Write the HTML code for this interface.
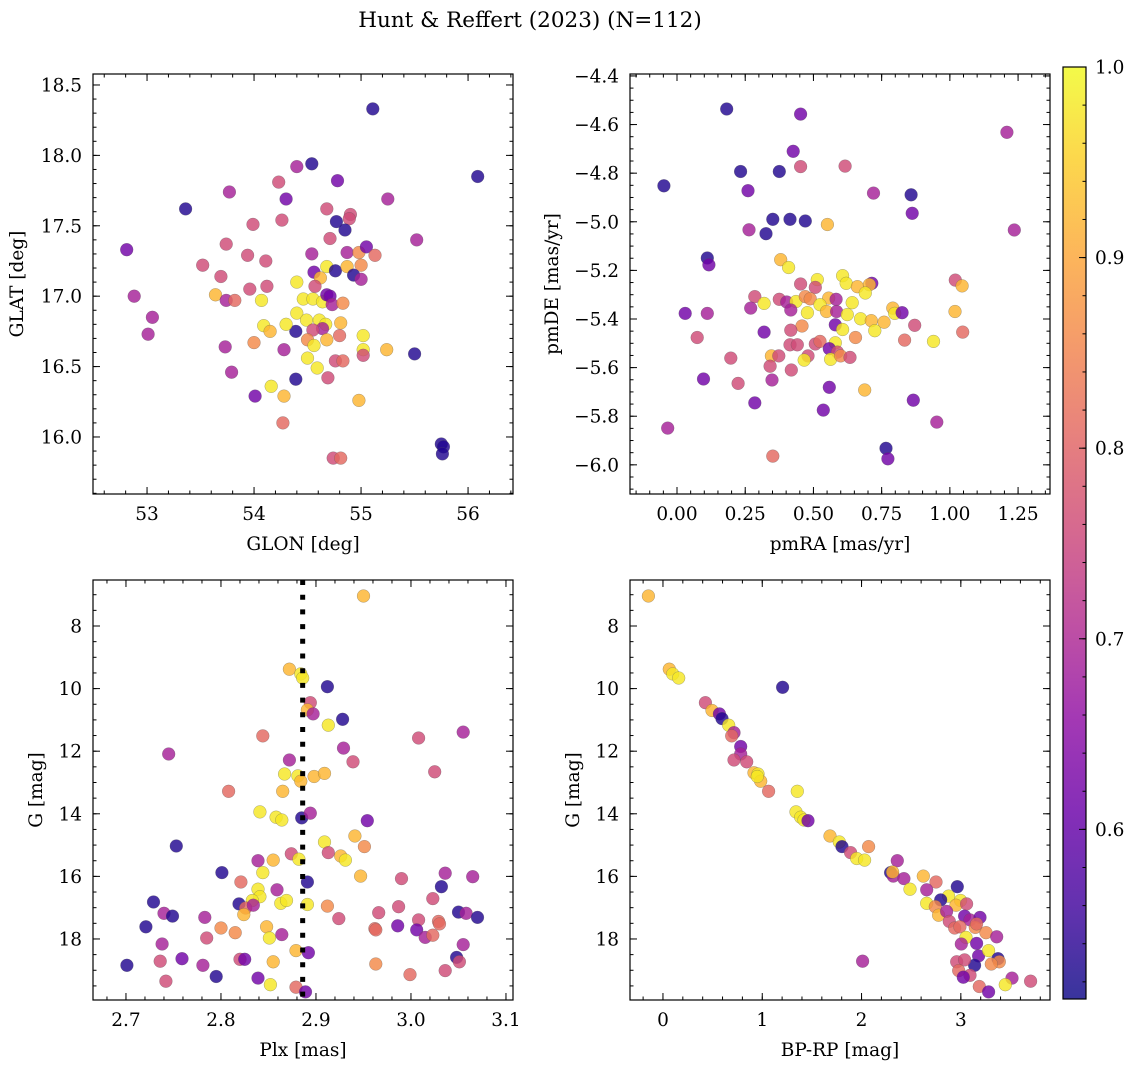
<!DOCTYPE html>
<html><head><meta charset="utf-8"><style>
html,body{margin:0;padding:0;background:#fff;}
svg{display:block;font-family:"DejaVu Serif","Liberation Serif",serif;}
</style></head><body>
<svg id="fig" width="1136" height="1067" viewBox="0 0 1136 1067" xmlns="http://www.w3.org/2000/svg">
<text x="530" y="27" text-anchor="middle" font-size="21.5">Hunt &amp; Reffert (2023) (N=112)</text>
</svg>
<script>
// probability codes: b=0.53 p=0.62 m=0.69 pk=0.76 s=0.81 o=0.86 lo=0.92 y=0.98
const glon=[55.11,56.09,54.54,54.40,54.78,54.23,53.77,54.30,55.25,53.36,54.68,54.90,54.89,53.99,54.26,54.77,54.85,54.71,55.52,52.81,53.74,53.94,54.11,54.54,54.87,54.98,55.05,55.13,53.52,53.69,54.68,54.76,54.56,54.87,55.00,54.93,55.00,54.62,54.40,54.57,53.96,54.12,52.88,53.64,53.74,53.82,54.07,54.46,54.55,54.64,54.68,54.71,54.73,54.83,53.05,53.01,54.40,54.49,54.61,54.67,54.64,54.55,54.39,54.09,54.15,54.30,54.81,55.02,54.80,54.50,54.56,54.68,54.00,53.73,54.28,55.02,55.02,55.24,55.50,54.50,54.76,54.83,54.59,53.79,54.69,54.39,54.16,54.01,54.28,54.98,54.27,54.74,54.81,55.75,55.77,55.76];
const glat=[18.33,17.85,17.94,17.92,17.82,17.81,17.74,17.69,17.69,17.62,17.62,17.58,17.55,17.51,17.54,17.53,17.47,17.41,17.40,17.33,17.37,17.29,17.25,17.30,17.31,17.31,17.35,17.29,17.22,17.14,17.21,17.18,17.17,17.21,17.22,17.15,17.12,17.13,17.10,17.07,17.05,17.07,17.00,17.01,16.97,16.97,16.97,16.98,16.98,16.96,17.01,17.00,16.94,16.95,16.85,16.73,16.88,16.83,16.83,16.80,16.77,16.76,16.75,16.79,16.75,16.80,16.81,16.72,16.72,16.69,16.65,16.69,16.67,16.64,16.62,16.62,16.58,16.62,16.59,16.56,16.54,16.54,16.49,16.46,16.42,16.41,16.36,16.29,16.29,16.26,16.10,15.85,15.85,15.95,15.93,15.88];
const prob1=[.53,.53,.53,.69,.62,.76,.69,.62,.69,.53,.76,.76,.76,.76,.76,.53,.53,.76,.69,.62,.76,.76,.76,.69,.69,.86,.62,.81,.76,.76,.98,.53,.62,.92,.86,.53,.69,.92,.98,.76,.76,.76,.69,.92,.69,.81,.98,.98,.98,.98,.62,.62,.69,.86,.69,.69,.98,.98,.98,.98,.69,.76,.53,.98,.92,.98,.92,.98,.81,.86,.98,.92,.86,.69,.69,.98,.76,.92,.53,.98,.76,.81,.98,.69,.76,.53,.98,.62,.92,.92,.81,.76,.81,.53,.53,.53];

const pmra=[0.182,0.453,1.209,0.426,0.233,0.375,0.453,0.616,-0.048,0.260,0.720,0.858,0.862,0.351,0.414,0.470,0.551,0.264,0.326,1.236,0.111,0.117,0.380,0.409,0.607,0.620,0.661,0.514,0.453,0.507,0.714,0.705,0.690,1.020,1.045,0.285,0.319,0.375,0.402,0.436,0.470,0.488,0.556,0.583,0.524,0.548,0.585,0.642,0.270,0.417,0.478,0.624,0.791,0.798,0.825,1.019,0.030,0.111,0.673,0.712,0.759,0.580,0.607,0.725,0.458,0.871,0.417,0.319,1.047,0.074,0.654,0.834,0.940,0.414,0.441,0.507,0.524,0.580,0.558,0.588,0.197,0.346,0.373,0.480,0.466,0.563,0.600,0.634,0.341,0.419,0.097,0.348,0.224,0.558,0.688,0.285,0.866,0.536,0.952,-0.034,0.351,0.766,0.773];
const pmde=[-4.536,-4.557,-4.632,-4.710,-4.793,-4.793,-4.773,-4.771,-4.852,-4.872,-4.882,-4.889,-4.965,-4.990,-4.990,-4.997,-5.011,-5.033,-5.049,-5.034,-5.149,-5.177,-5.156,-5.188,-5.222,-5.253,-5.267,-5.238,-5.256,-5.270,-5.253,-5.259,-5.293,-5.240,-5.264,-5.308,-5.336,-5.319,-5.330,-5.328,-5.308,-5.317,-5.314,-5.319,-5.341,-5.369,-5.369,-5.333,-5.355,-5.363,-5.374,-5.382,-5.355,-5.377,-5.374,-5.369,-5.377,-5.377,-5.399,-5.407,-5.413,-5.424,-5.443,-5.448,-5.429,-5.426,-5.446,-5.454,-5.454,-5.476,-5.476,-5.487,-5.492,-5.506,-5.506,-5.503,-5.492,-5.498,-5.522,-5.536,-5.561,-5.552,-5.552,-5.552,-5.569,-5.566,-5.552,-5.558,-5.594,-5.610,-5.647,-5.651,-5.665,-5.681,-5.692,-5.745,-5.734,-5.775,-5.824,-5.849,-5.964,-5.932,-5.975];
const prob2=[.53,.62,.69,.62,.53,.53,.76,.76,.53,.62,.69,.53,.62,.53,.53,.53,.92,.69,.53,.69,.53,.62,.92,.98,.98,.98,.92,.98,.76,.76,.62,.92,.98,.76,.92,.76,.98,.76,.69,.98,.86,.86,.92,.69,.98,.92,.69,.98,.69,.69,.98,.98,.92,.98,.62,.92,.62,.69,.98,.92,.92,.62,.98,.98,.86,.76,.76,.62,.81,.76,.86,.81,.98,.76,.76,.76,.81,.98,.62,.76,.76,.92,.76,.76,.98,.98,.86,.76,.76,.76,.62,.69,.76,.62,.92,.62,.62,.62,.69,.69,.81,.53,.62];

const plx=[2.950,2.872,2.884,2.886,2.912,2.894,2.891,2.897,2.928,2.913,3.055,2.844,3.008,2.745,2.929,2.872,2.939,3.025,2.867,2.881,2.884,2.898,2.909,2.808,2.865,2.841,2.858,2.864,2.885,2.894,2.954,2.753,2.909,2.913,2.941,2.951,2.874,2.882,2.926,2.931,2.839,2.855,2.844,2.801,2.891,2.947,2.990,3.036,3.065,3.032,2.821,2.839,2.859,2.841,2.833,2.819,2.826,2.834,2.824,2.863,2.869,2.891,2.912,3.023,2.987,2.729,2.740,2.749,2.783,2.966,2.924,3.008,3.029,3.030,3.050,3.058,3.070,2.721,2.800,2.815,2.848,2.851,2.864,2.785,2.962,2.963,2.986,3.006,3.015,3.023,2.738,3.055,2.879,2.892,3.048,3.051,2.701,2.736,2.759,2.781,2.820,2.825,2.855,2.963,2.795,2.839,3.036,2.999,2.742,2.852,2.879,2.889];
const gmag3=[7.04,9.38,9.53,9.66,9.94,10.45,10.68,10.81,10.98,11.17,11.39,11.51,11.58,12.09,11.90,12.28,12.34,12.66,12.73,12.79,12.96,12.81,12.71,13.28,13.28,13.94,14.11,14.20,14.13,13.98,14.22,15.03,14.90,15.24,14.71,15.05,15.28,15.45,15.35,15.48,15.50,15.48,15.88,15.88,16.18,15.99,16.07,15.90,16.01,16.33,16.18,16.41,16.43,16.65,16.77,16.88,17.01,16.92,17.22,16.86,16.77,16.90,16.95,16.71,16.97,16.82,17.18,17.27,17.31,17.16,17.35,17.39,17.44,17.52,17.14,17.18,17.31,17.61,17.65,17.80,17.61,17.97,17.86,17.97,17.67,17.71,17.58,17.71,17.95,17.88,18.16,18.18,18.37,18.44,18.59,18.73,18.84,18.71,18.63,18.84,18.65,18.65,18.73,18.80,19.20,19.25,19.01,19.14,19.35,19.46,19.54,19.69];
const prob3=[.92,.92,.98,.98,.53,.76,.92,.69,.53,.98,.69,.81,.76,.69,.69,.69,.76,.76,.98,.98,.92,.92,.92,.81,.92,.98,.98,.98,.53,.69,.62,.53,.98,.76,.92,.86,.76,.98,.92,.98,.69,.92,.98,.53,.53,.92,.76,.69,.69,.53,.81,.98,.69,.98,.98,.53,.81,.69,.92,.98,.98,.98,.86,.76,.76,.53,.69,.53,.69,.76,.76,.76,.81,.81,.53,.69,.53,.53,.86,.86,.92,.98,.69,.76,.81,.81,.62,.62,.69,.81,.69,.69,.92,.62,.53,.76,.53,.76,.62,.69,.76,.62,.92,.86,.53,.62,.76,.81,.76,.98,.81,.62];

const bprp=[-0.147,0.064,0.098,0.158,1.205,0.427,0.494,0.568,0.595,0.662,0.715,0.692,0.783,0.783,0.715,0.843,0.917,0.957,0.984,0.950,1.064,1.353,1.340,1.387,1.420,1.461,1.682,1.776,1.803,1.890,1.951,2.031,2.071,2.360,2.293,2.320,2.313,2.427,2.488,2.622,2.750,2.656,2.656,2.964,2.877,2.998,2.951,3.058,2.797,2.743,2.776,2.857,2.884,3.038,3.092,3.193,2.938,2.991,3.146,3.159,3.253,3.361,3.052,3.005,3.159,3.179,3.280,3.374,3.387,3.307,3.139,2.958,3.038,2.978,3.092,3.025,3.515,3.448,3.703,3.186,3.280,2.011];
const gmag4=[7.04,9.38,9.53,9.66,9.96,10.45,10.70,10.81,10.96,11.17,11.41,11.51,11.85,12.09,12.28,12.34,12.69,12.73,12.96,12.81,13.28,13.28,13.94,14.11,14.20,14.22,14.71,14.90,15.05,15.24,15.43,15.48,15.05,15.50,15.88,15.99,15.86,16.07,16.41,15.99,16.18,16.43,16.86,16.33,16.63,16.77,16.92,16.88,16.75,16.97,17.24,17.12,17.44,17.27,17.39,17.31,17.65,17.61,17.63,17.52,17.80,17.93,17.95,18.16,18.14,18.54,18.37,18.63,18.73,18.80,18.84,18.73,18.67,19.01,19.16,19.22,19.25,19.46,19.35,19.52,19.69,18.71];
const prob4=[.92,.92,.98,.98,.53,.76,.92,.62,.53,.98,.69,.81,.62,.69,.76,.76,.92,.98,.92,.98,.81,.98,.98,.98,.98,.62,.92,.98,.53,.76,.98,.98,.86,.69,.53,.69,.92,.69,.98,.92,.81,.69,.98,.53,.98,.98,.92,.76,.53,.86,.92,.69,.76,.62,.69,.62,.81,.81,.86,.81,.86,.69,.98,.69,.62,.62,.98,.53,.86,.86,.53,.76,.76,.81,.76,.62,.69,.98,.76,.81,.62,.69];

const cbTicks=[0.6,0.7,0.8,0.9,1.0];
const VMIN=0.511, VMAX=1.0;
const plxRef=2.886;

const NS="http://www.w3.org/2000/svg";
const svg=document.getElementById('fig');
const FS=18.5;
function mk(tag,attrs,parent){const e=document.createElementNS(NS,tag);for(const k in attrs)e.setAttribute(k,attrs[k]);(parent||svg).appendChild(e);return e;}
const plasma=[[13,8,135],[65,4,157],[106,0,168],[143,13,164],[177,42,144],[204,71,120],[225,100,98],[242,132,75],[252,166,54],[252,206,37],[240,249,33]];
function cmap(v){let t=(v-VMIN)/(VMAX-VMIN);t=Math.max(0,Math.min(1,t));const f=t*10,i=Math.min(9,Math.floor(f)),r=f-i;const a=plasma[i],b=plasma[i+1];return `rgb(${Math.round(a[0]+(b[0]-a[0])*r)},${Math.round(a[1]+(b[1]-a[1])*r)},${Math.round(a[2]+(b[2]-a[2])*r)})`;}
function fmt(v,d){return (v<0?'\u2212':'')+Math.abs(v).toFixed(d);}

function panel(o){
  const {L,T,W,H,x0,x1,y0,y1}=o;
  const sx=v=>L+(v-x0)/(x1-x0)*W;
  const sy=v=>T+(y1-v)/(y1-y0)*H;
  const g=mk('g',{});
  
  
  const clip=mk('clipPath',{id:o.name+'-clip'},g);mk('rect',{x:L,y:T,width:W,height:H},clip);
  const pts=mk('g',{'clip-path':`url(#${o.name}-clip)`},g);
  
  
  for(let i=0;i<o.xs.length;i++){
    const c=mk('circle',{cx:sx(o.xs[i]).toFixed(1),cy:sy(o.ys[i]).toFixed(1),r:6.4,fill:cmap(o.cs[i]),'fill-opacity':0.82,stroke:'#555','stroke-opacity':0.5,'stroke-width':0.5},pts);
    
    
  }
  if(o.vline!==undefined){const l=mk('line',{x1:sx(o.vline),x2:sx(o.vline),y1:T,y2:T+H,stroke:'#000','stroke-width':5,'stroke-dasharray':'5 9.7'},pts);
    
    }
  const tg=mk('g',{stroke:'#000','stroke-width':1},g);
  const eps=1e-9;
  function xt(step,len){const s=Math.ceil(Math.min(x0,x1)/step-eps);for(let k=s;k*step<=Math.max(x0,x1)+eps;k++){const X=sx(k*step);mk('line',{x1:X,x2:X,y1:T+H,y2:T+H-len},tg);mk('line',{x1:X,x2:X,y1:T,y2:T+len},tg);}}
  function yt(step,len){const lo=Math.min(y0,y1),hi=Math.max(y0,y1);const s=Math.ceil(lo/step-eps);for(let k=s;k*step<=hi+eps;k++){const Y=sy(k*step);mk('line',{x1:L,x2:L+len,y1:Y,y2:Y},tg);mk('line',{x1:L+W,x2:L+W-len,y1:Y,y2:Y},tg);}}
  xt(o.xmin,3.5);xt(o.xmaj,7);yt(o.ymin,3.5);yt(o.ymaj,7);
  mk('rect',{x:L,y:T,width:W,height:H,fill:'none',stroke:'#000','stroke-width':1.2},g);
  {const s=Math.ceil(x0/o.xmaj-eps);for(let k=s;k*o.xmaj<=x1+eps;k++){const v=k*o.xmaj;const t=mk('text',{x:sx(v),y:T+H+26,'text-anchor':'middle','font-size':FS},g);t.textContent=fmt(v,o.xd);
    
    }}
  {const lo=Math.min(y0,y1),hi=Math.max(y0,y1);const s=Math.ceil(lo/o.ymaj-eps);for(let k=s;k*o.ymaj<=hi+eps;k++){const v=k*o.ymaj;const t=mk('text',{x:L-11,y:sy(v)+6.5,'text-anchor':'end','font-size':FS},g);t.textContent=o.neg?fmt(-v,o.yd):fmt(v,o.yd);
    
    }}
  const xl=mk('text',{x:L+W/2,y:T+H+56,'text-anchor':'middle','font-size':FS},g);xl.textContent=o.xlab;
  
  
  const yl=mk('text',{x:0,y:0,'text-anchor':'middle','font-size':FS,transform:`translate(${o.ylx},${T+H/2}) rotate(-90)`},g);yl.textContent=o.ylab;
  
  
}
panel({name:'glon-glat-panel',L:93,T:74,W:420,H:420,x0:52.495,x1:56.42,y0:15.595,y1:18.578,xs:glon,ys:glat,cs:prob1,xmaj:1,xmin:0.2,ymaj:0.5,ymin:0.1,xd:0,yd:1,xlab:'GLON [deg]',ylab:'GLAT [deg]',ylx:23});
panel({name:'pm-panel',L:630,T:74,W:420,H:420,x0:-0.1723,x1:1.367,y0:-6.120,y1:-4.392,xs:pmra,ys:pmde,cs:prob2,xmaj:0.25,xmin:0.05,ymaj:0.2,ymin:0.05,xd:2,yd:1,xlab:'pmRA [mas/yr]',ylab:'pmDE [mas/yr]',ylx:558});
const ng3=gmag3.map(v=>-v), ng4=gmag4.map(v=>-v);
function panelG(o){o.y0=-19.95;o.y1=-6.53;o.ymaj=2;o.ymin=0.5;o.yd=0;o.neg=true;panel(o);}
panelG({name:'plx-g-panel',L:93,T:580,W:420,H:420,x0:2.6653,x1:3.1074,xs:plx,ys:ng3,cs:prob3,xmaj:0.1,xmin:0.02,xd:1,xlab:'Plx [mas]',ylab:'G [mag]',ylx:42,vline:plxRef});
panelG({name:'cmd-panel',L:630,T:580,W:420,H:420,x0:-0.332,x1:3.898,xs:bprp,ys:ng4,cs:prob4,xmaj:1,xmin:0.2,xd:0,xlab:'BP-RP [mag]',ylab:'G [mag]',ylx:579});

const cb=mk('g',{});


const defs=mk('defs',{},cb);const lg=mk('linearGradient',{id:'cbg',x1:0,y1:1,x2:0,y2:0},defs);
for(let i=0;i<=20;i++){const v=VMIN+(VMAX-VMIN)*i/20;mk('stop',{offset:i/20,'stop-color':cmap(v),'stop-opacity':0.82},lg);}
const CL=1063,CT=67,CW=23,CH=932;
const cy=v=>CT+(VMAX-v)/(VMAX-VMIN)*CH;
mk('rect',{x:CL,y:CT,width:CW,height:CH,fill:'url(#cbg)'},cb);
for(let k=Math.ceil(VMIN/0.02);k*0.02<=VMAX+1e-9;k++){const Y=cy(k*0.02);mk('line',{x1:CL+CW,x2:CL+CW-3.5,y1:Y,y2:Y,stroke:'#000'},cb);}
cbTicks.forEach(v=>{const Y=cy(v);mk('line',{x1:CL+CW,x2:CL+CW-7,y1:Y,y2:Y,stroke:'#000'},cb);const t=mk('text',{x:CL+CW+9,y:Y+6.5,'font-size':FS},cb);t.textContent=v.toFixed(1);
  
  });
mk('rect',{x:CL,y:CT,width:CW,height:CH,fill:'none',stroke:'#000','stroke-width':1.2},cb);
</script>
</body></html>
